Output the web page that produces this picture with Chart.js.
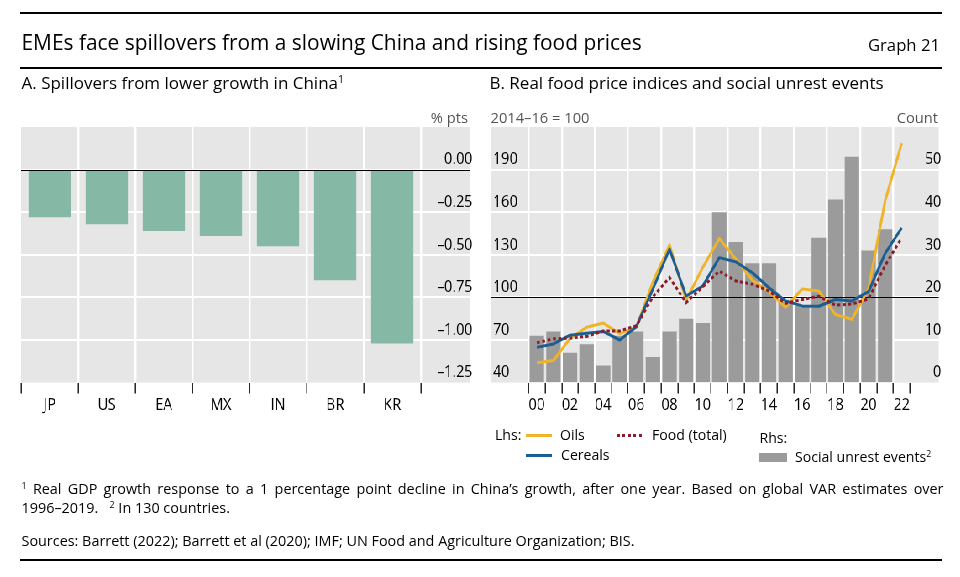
<!DOCTYPE html>
<html>
<head>
<meta charset="utf-8">
<script src="https://cdn.jsdelivr.net/npm/chart.js@4.4.1/dist/chart.umd.min.js"></script>
<style>
html, body { margin: 0; padding: 0; background: #fff; overflow: hidden; }
body { width: 960px; height: 577px; position: relative; font-family: "Open Sans", sans-serif; color: #000; }
/* the plot panels of the reference are horizontally squeezed: draw wide, then squeeze */
#plots { position: absolute; left: 0; top: 0; width: 1143px; height: 577px;
         transform: scaleX(0.84); transform-origin: 0 0; }
.t { position: absolute; white-space: nowrap; }
.rule { position: absolute; left: 20px; width: 922px; background: #000; }
.unit { font-size: 14.7px; line-height: 20px; color: #555; }
.leg { font-size: 14.1px; line-height: 20px; }
.note { font-size: 14.4px; line-height: 19px; }
.swatch { position: absolute; height: 3px; }
sup { font-size: 0.62em; line-height: 0; vertical-align: 0.6em; }
canvas { position: absolute; }
</style>
</head>
<body>
<div id="plots">
  <canvas id="chartA" width="571" height="330" style="left:0;top:100px;width:571px;height:330px"></canvas>
  <canvas id="chartB" width="560" height="330" style="left:571px;top:100px;width:560px;height:330px"></canvas>
</div>

<div class="rule" style="top:12px;height:2px"></div>
<div class="t" style="left:21.5px;top:28px;font-size:20.9px;line-height:28px">EMEs face spillovers from a slowing China and rising food prices</div>
<div class="t" style="right:20px;top:33.5px;font-size:16.7px;line-height:22px">Graph 21</div>
<div class="rule" style="top:66.5px;height:2px"></div>

<div class="t" style="left:21.5px;top:71.5px;font-size:17px;line-height:22px">A. Spillovers from lower growth in China<sup>1</sup></div>
<div class="t" style="left:489.5px;top:71.5px;font-size:17px;line-height:22px">B. Real food price indices and social unrest events</div>

<div class="t unit" style="right:492px;top:107px">% pts</div>
<div class="t unit" style="left:490.5px;top:107px">2014–16 = 100</div>
<div class="t unit" style="right:22px;top:107px">Count</div>

<div class="t leg" style="left:495px;top:425px">Lhs:</div>
<div class="swatch" style="left:526px;top:433.5px;width:26px;background:#f0b429"></div>
<div class="t leg" style="left:560px;top:425px">Oils</div>
<div class="swatch" style="left:617px;top:433.5px;width:25px;background:repeating-linear-gradient(to right,#8c1c2c 0 3px,transparent 3px 5.5px)"></div>
<div class="t leg" style="left:652px;top:425px">Food (total)</div>
<div class="swatch" style="left:526px;top:453.5px;width:26px;background:#1b5e91"></div>
<div class="t leg" style="left:561px;top:444.5px">Cereals</div>
<div class="t leg" style="left:759.5px;top:428px">Rhs:</div>
<div class="swatch" style="left:759px;top:452.5px;width:28px;height:9.5px;background:#9b9b9b"></div>
<div class="t leg" style="left:795px;top:447px">Social unrest events<sup>2</sup></div>

<div class="t note" style="left:21.5px;top:479px;width:922px;white-space:normal;text-align:justify;text-align-last:justify"><sup>1</sup> Real GDP growth response to a 1 percentage point decline in China’s growth, after one year. Based on global VAR estimates over</div>
<div class="t note" style="left:21.5px;top:497.5px">1996–2019.&nbsp;&nbsp;&nbsp;<sup>2</sup>&nbsp;In 130 countries.</div>
<div class="t note" style="left:21.5px;top:530.5px">Sources: Barrett (2022); Barrett et al (2020); IMF; UN Food and Agriculture Organization; BIS.</div>
<div class="rule" style="top:559px;height:2px"></div>

<script>
// Panel A
const countriesA = ['JP', 'US', 'EA', 'MX', 'IN', 'BR', 'KR'];
const spilloverA = [-0.28, -0.32, -0.36, -0.39, -0.45, -0.65, -1.02];

// Panel B
const years = [2000, 2001, 2002, 2003, 2004, 2005, 2006, 2007, 2008, 2009, 2010, 2011,
               2012, 2013, 2014, 2015, 2016, 2017, 2018, 2019, 2020, 2021, 2022];
const oils = [54, 55.5, 71, 79, 82, 74.5, 79, 111, 137, 98, 121, 141.5,
              127, 112, 104, 93, 106, 104.5, 88, 84.5, 106, 168, 208.5];
const cereals = [64.8, 67.2, 73.4, 74.8, 76, 70, 79.3, 106, 134, 101, 108, 128,
                 125, 117.4, 106.8, 97.5, 94, 93.8, 98.5, 97.5, 104, 131, 149];
const food = [68, 70.8, 71.3, 72.5, 76.3, 76.4, 80, 100.5, 114, 96.3, 107.5, 118.5,
              111.5, 109.3, 104.5, 95.8, 98.5, 100.8, 94.5, 95.3, 99, 122.5, 142];
const unrest = [11, 12, 7, 9, 4, 11, 12, 6, 12, 15, 14, 40,
                33, 28, 28, 19, 18, 34, 43, 53, 31, 36, null];

Chart.defaults.font.family = "'Open Sans', sans-serif";
Chart.defaults.font.size = 17;
Chart.defaults.color = '#000';

const CLEAR = 'rgba(0,0,0,0)';

// grey plot background + black reference line drawn just above the bars
const panelPlugin = {
    id: 'panel',
    beforeDraw(chart) {
        const a = chart.chartArea, ctx = chart.ctx;
        ctx.save();
        ctx.fillStyle = '#e6e6e6';
        ctx.fillRect(a.left, a.top, a.right - a.left, a.bottom - a.top);
        ctx.restore();
    },
    afterDatasetDraw(chart, args, opts) {
        if (args.meta.type !== 'bar') return;
        const a = chart.chartArea, ctx = chart.ctx;
        const y = Math.round(chart.scales[opts.axis].getPixelForValue(opts.value)) + 0.5;
        ctx.save();
        ctx.strokeStyle = '#000';
        ctx.lineWidth = 1.2;
        ctx.beginPath();
        ctx.moveTo(a.left, y);
        ctx.lineTo(a.right, y);
        ctx.stroke();
        ctx.restore();
    }
};

function fmtA(v) {
    if (Math.abs(v) < 1e-9) return '0.00';
    return (v < 0 ? '–' : '') + Math.abs(v).toFixed(2);
}

new Chart(document.getElementById('chartA'), {
    type: 'bar',
    data: {
        datasets: [{
            data: spilloverA.map((v, i) => ({ x: i, y: v })),
            backgroundColor: '#85b9a5',
            barPercentage: 0.74,
            categoryPercentage: 1
        }]
    },
    options: {
        responsive: false,
        animation: false,
        layout: { padding: { left: 25, right: 5.5, top: 27, bottom: 14 } },
        plugins: { legend: { display: false }, tooltip: { enabled: false }, panel: { axis: 'y', value: 0 } },
        scales: {
            x: {
                type: 'linear',
                offset: false,
                min: -0.5,
                max: 7.36,
                afterBuildTicks: s => { s.ticks = countriesA.map((c, i) => ({ value: i - 0.5 })).concat([{ value: countriesA.length - 0.5 }]); },
                border: { display: false },
                grid: {
                    offset: false,
                    color: c => (c.tick && c.tick.value > -0.4) ? '#fff' : CLEAR,
                    lineWidth: 2.4,
                    tickColor: '#000',
                    tickWidth: 1.3,
                    tickLength: 11
                },
                ticks: {
                    autoSkip: false,
                    maxRotation: 0,
                    padding: 1,
                    labelOffset: 34,
                    callback: (v, i) => countriesA[i] || ''
                }
            },
            y: {
                position: 'right',
                min: -1.25,
                max: 0.25,
                border: { display: false },
                grid: {
                    color: c => (c.tick && c.tick.value > -1.2 && c.tick.value < 0.2) ? '#fff' : CLEAR,
                    lineWidth: 2,
                    drawTicks: false
                },
                ticks: {
                    stepSize: 0.25,
                    mirror: true,
                    padding: 3,
                    labelOffset: -10,
                    callback: v => v > 0.01 ? '' : fmtA(v)
                }
            }
        }
    },
    plugins: [panelPlugin]
});

new Chart(document.getElementById('chartB'), {
    type: 'bar',
    data: {
        datasets: [
            {
                type: 'line',
                data: years.map((y, i) => ({ x: y, y: food[i] })),
                yAxisID: 'y',
                borderColor: '#8c1c2c',
                borderWidth: 3,
                borderDash: [3.5, 3],
                pointRadius: 0,
                tension: 0,
                order: 1
            },
            {
                type: 'line',
                data: years.map((y, i) => ({ x: y, y: cereals[i] })),
                yAxisID: 'y',
                borderColor: '#1b5e91',
                borderWidth: 3,
                borderJoinStyle: 'round',
                pointRadius: 0,
                tension: 0,
                order: 2
            },
            {
                type: 'line',
                data: years.map((y, i) => ({ x: y, y: oils[i] })),
                yAxisID: 'y',
                borderColor: '#f0b429',
                borderWidth: 3,
                borderJoinStyle: 'round',
                pointRadius: 0,
                tension: 0,
                order: 3
            },
            {
                type: 'bar',
                data: years.map((y, i) => ({ x: y, y: unrest[i] })),
                yAxisID: 'y1',
                backgroundColor: '#9b9b9b',
                barPercentage: 0.87,
                categoryPercentage: 1,
                order: 4
            }
        ]
    },
    options: {
        responsive: false,
        animation: false,
        layout: { padding: { left: 7, right: 7.5, top: 27, bottom: 14 } },
        plugins: { legend: { display: false }, tooltip: { enabled: false }, panel: { axis: 'y', value: 100 } },
        scales: {
            x: {
                type: 'linear',
                offset: false,
                min: 1997.21,
                max: 2024.23,
                afterBuildTicks: s => { s.ticks = years.map(y => ({ value: y - 0.5 })).concat([{ value: years[years.length - 1] + 0.5 }]); },
                border: { display: false },
                grid: {
                    offset: false,
                    color: c => (c.tick && Math.round(c.tick.value + 0.5) % 2 === 0) ? '#fff' : CLEAR,
                    lineWidth: 2.4,
                    tickColor: '#000',
                    tickWidth: 1.3,
                    tickLength: 11
                },
                ticks: {
                    autoSkip: false,
                    maxRotation: 0,
                    padding: 1,
                    labelOffset: 9.87,
                    callback: (v, i) => (years[i] !== undefined && years[i] % 2 === 0) ? String(years[i]).slice(2) : ''
                }
            },
            y: {
                position: 'left',
                min: 40,
                max: 220,
                border: { display: false },
                grid: {
                    color: c => (c.tick && c.tick.value > 41 && c.tick.value < 219) ? '#fff' : CLEAR,
                    lineWidth: 2,
                    drawTicks: false
                },
                ticks: {
                    stepSize: 30,
                    mirror: true,
                    padding: 3,
                    labelOffset: -10,
                    callback: v => v > 200 ? '' : String(v)
                }
            },
            y1: {
                position: 'right',
                min: 0,
                max: 60,
                border: { display: false },
                grid: { drawOnChartArea: false, drawTicks: false },
                ticks: {
                    stepSize: 10,
                    mirror: true,
                    padding: 3,
                    labelOffset: -10,
                    callback: v => v > 55 ? '' : String(v)
                }
            }
        }
    },
    plugins: [panelPlugin]
});
</script>
</body>
</html>
